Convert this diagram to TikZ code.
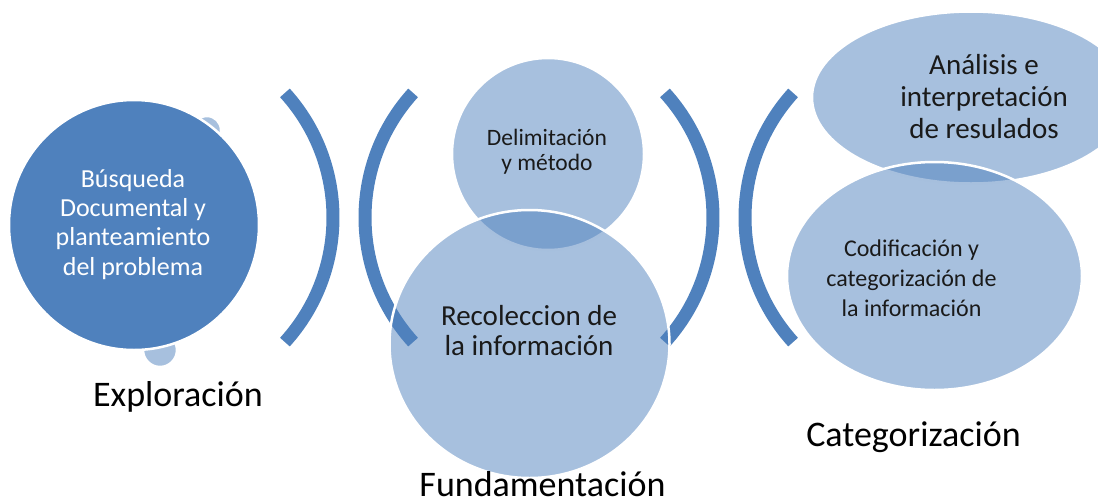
\documentclass[tikz,border=0pt]{standalone}
\usepackage{fontspec}
\setmainfont{Carlito}
\definecolor{accent}{HTML}{4F81BD}
\definecolor{ink}{HTML}{1A1A1A}
\tikzset{
  bracket/.style={draw=accent, line width=13pt, line cap=butt},
  bubble/.style={fill=accent, fill opacity=0.5, draw=white, draw opacity=1, line width=2.5pt},
  solidbubble/.style={fill=accent, draw=white, line width=2.5pt},
  phase/.style={anchor=base, text=black, inner sep=0pt, font=\fontsize{36}{40}\selectfont},
  bubbletext/.style={anchor=base, align=center, text=ink, inner sep=0pt},
}

\begin{document}
\begin{tikzpicture}[x=1pt,y=-1pt]
	\clip (0,0) rectangle (1098,501);

	% brackets between the phases
	\coordinate (c1) at (147.5,217.5);
	\coordinate (c2) at (550.5,217.5);
	\coordinate (c3) at (527.5,217.5);
	\coordinate (c4) at (930.5,217.5);
	\foreach \c/\a in {c1/0, c2/180, c3/0, c4/180}
		\draw[bracket] ([shift={(\a-42.2:185.5)}]\c) arc[start angle=\a-42.2, end angle=\a+42.2, radius=185.5];

	% exploracion
	\path[bubble] (207,130) circle[radius=14];
	\path[bubble] (160,350) circle[radius=17];
	\path[solidbubble] (134,225) circle[radius=125];
	\node[bubbletext, text=white, font=\fontsize{26}{29.3}\selectfont] (busq) at (133,275) {Búsqueda\\Documental y\\planteamiento\\del problema};
	\node[phase] (explo) at (178,406.7) {Exploración};

	% fundamentacion
	\path[bubble] (548,154) circle[radius=96];
	\path[bubble] (529.5,344) circle[x radius=140, y radius=134];
	\node[bubbletext, font=\fontsize{23.5}{25}\selectfont] (delim) at (547,170) {Delimitación\\y método};
	\node[bubbletext, font=\fontsize{29}{30}\selectfont] (recol) at (529,355) {Recoleccion de\\la información};
	\node[phase] (funda) at (542.5,496) {Fundamentación};

	% categorizacion
	\path[bubble] (971,97.5) circle[x radius=159, y radius=86];
	\path[bubble] (934.5,276) circle[x radius=147.5, y radius=114];
	\node[bubbletext, font=\fontsize{29}{31.7}\selectfont] (anal) at (984,138.3) {Análisis e\\interpretación\\de resulados};
	\node[bubbletext, font=\fontsize{24}{30}\selectfont] (codif) at (911.5,316.7) {Codificación y\\categorización de\\la información};
	\node[phase] (categ) at (913.5,446.7) {Categorización};
\end{tikzpicture}
\end{document}
